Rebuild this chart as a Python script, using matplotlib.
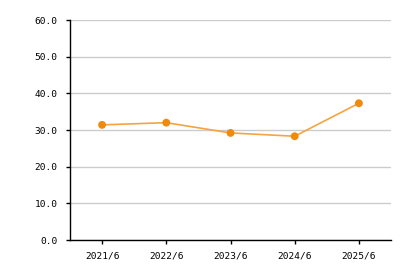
import matplotlib
matplotlib.use("Agg")
import matplotlib.pyplot as plt

periods = ["2021/6", "2022/6", "2023/6", "2024/6", "2025/6"]
values = [31.4, 32.0, 29.2, 28.3, 37.3]
y_ticks = [0, 10, 20, 30, 40, 50, 60]

plt.rcParams["font.family"] = ["DejaVu Sans Mono"]

fig = plt.figure(figsize=(4.1, 2.7), dpi=100)
ax = fig.add_axes([70 / 410, 30 / 270, 321 / 410, 220 / 270])

x = range(len(periods))
ax.plot(x, values, color="#f5a343", linewidth=1.2, zorder=3)
ax.scatter(x, values, color="#f08a0c", s=32, zorder=4, edgecolors="none")

ax.set_xlim(-0.5, len(periods) - 0.5)
ax.set_ylim(0, 60)
ax.set_yticks(y_ticks)
ax.set_yticklabels([f"{v:.1f}" for v in y_ticks])
ax.set_xticks(list(x))
ax.set_xticklabels(periods)
ax.tick_params(labelsize=6.8, length=3, width=1, color="black")
ax.tick_params(axis="y", pad=6)
ax.tick_params(axis="x", pad=5)

ax.grid(axis="y", color="#cccccc", linewidth=1)
ax.set_axisbelow(True)
for side in ("top", "right"):
    ax.spines[side].set_visible(False)
for side in ("left", "bottom"):
    ax.spines[side].set_color("black")
    ax.spines[side].set_linewidth(1)

fig.savefig("out.png", dpi=100)
